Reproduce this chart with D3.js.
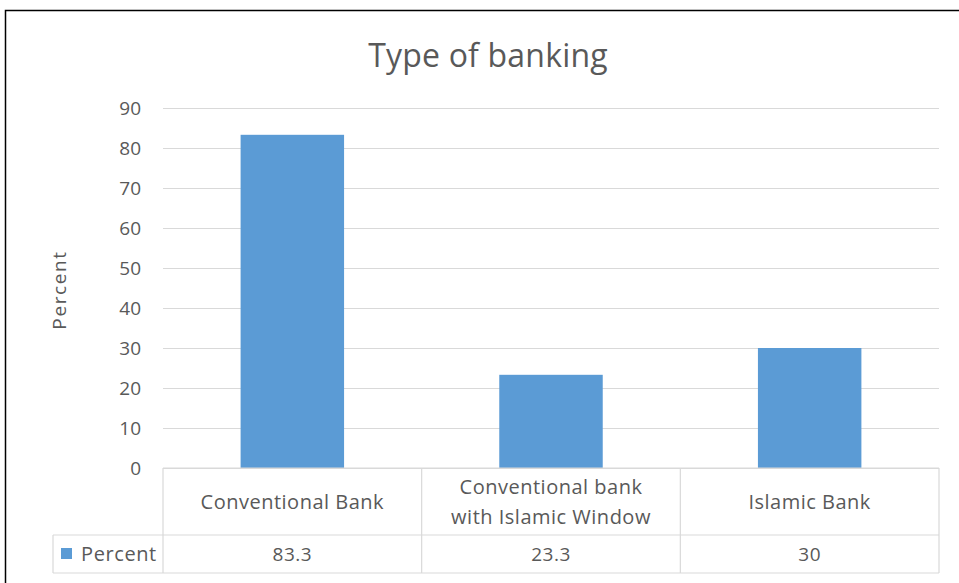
<!DOCTYPE html>
<html><head><meta charset="utf-8">
<script src="https://cdn.jsdelivr.net/npm/d3@7"></script>
<style>body{margin:0;background:#fff}svg{display:block}text{font-family:"Open Sans",sans-serif;fill:#595959}</style>
</head><body>
<svg id="c" width="959" height="583"></svg>
<script>
const categories = [["Conventional Bank"], ["Conventional bank", "with Islamic Window"], ["Islamic Bank"]];
const values = [83.3, 23.3, 30];
const valueLabels = ["83.3", "23.3", "30"];
const yTicks = [0, 10, 20, 30, 40, 50, 60, 70, 80, 90];
const seriesName = "Percent";
const title = "Type of banking";

const svg = d3.select("#c");
const L = 163, R = 939, T = 108, B = 468;
const row1 = 535, row2 = 573, legendLeft = 53;
const col = "#5B9BD5", grid = "#D9D9D9";

svg.append("rect").attr("x", 5.5).attr("y", 10.5).attr("width", 960).attr("height", 600)
  .attr("fill", "#fff").attr("stroke", "#000").attr("stroke-width", 1.5);

const x = d3.scaleBand().domain(d3.range(categories.length)).range([L, R]).paddingInner(0.6).paddingOuter(0.3);
const xc = d3.scaleBand().domain(d3.range(categories.length)).range([L, R]);
const y = d3.scaleLinear().domain([0, 90]).range([B, T]);

svg.append("text").attr("x", 488).attr("y", 67).attr("text-anchor", "middle")
  .style("font-size", "32px").style("letter-spacing", "0.2px").text(title);

svg.append("g").selectAll("line").data(yTicks).join("line")
  .attr("x1", L).attr("x2", R).attr("y1", d => y(d) + 0.5).attr("y2", d => y(d) + 0.5)
  .attr("stroke", grid).attr("stroke-width", 1);

svg.append("g").selectAll("text").data(yTicks).join("text")
  .attr("x", 141).attr("y", d => y(d) + 7).attr("text-anchor", "end")
  .style("font-size", "19px").text(d => d);

svg.append("text").attr("transform", "translate(66,290) rotate(-90)").attr("text-anchor", "middle")
  .style("font-size", "19px").style("letter-spacing", "1.6px").text(seriesName);

svg.append("g").selectAll("rect").data(values).join("rect")
  .attr("x", (d, i) => x(i)).attr("width", x.bandwidth())
  .attr("y", d => y(d)).attr("height", d => y(0) - y(d)).attr("fill", col);

// data table
const tg = svg.append("g").attr("stroke", grid).attr("stroke-width", 1.2);
tg.append("line").attr("x1", L).attr("x2", R).attr("y1", B).attr("y2", B);
tg.append("line").attr("x1", legendLeft).attr("x2", R).attr("y1", row1).attr("y2", row1);
tg.append("line").attr("x1", legendLeft).attr("x2", R).attr("y1", row2).attr("y2", row2);
tg.append("line").attr("x1", legendLeft).attr("x2", legendLeft).attr("y1", row1).attr("y2", row2);
const vlines = d3.range(categories.length).map(i => xc(i)).concat([R]);
tg.selectAll("line.v").data(vlines).join("line").attr("class", "v")
  .attr("x1", d => d).attr("x2", d => d).attr("y1", B).attr("y2", row2);

const cg = svg.append("g");
categories.forEach((lines, i) => {
  const cx = xc(i) + xc.bandwidth() / 2;
  const mid = (B + row1) / 2;
  lines.forEach((ln, j) => {
    cg.append("text").attr("x", cx).attr("y", mid + 7 + (j - (lines.length - 1) / 2) * 30)
      .attr("text-anchor", "middle").style("font-size", "20px").style("letter-spacing", "0.5px").text(ln);
  });
  cg.append("text").attr("x", cx).attr("y", (row1 + row2) / 2 + 7)
    .attr("text-anchor", "middle").style("font-size", "19px").style("letter-spacing", "0.5px").text(valueLabels[i]);
});
svg.append("rect").attr("x", 61).attr("y", 548).attr("width", 11).attr("height", 11).attr("fill", col);
svg.append("text").attr("x", 81).attr("y", 561).style("font-size", "20px").style("letter-spacing", "0.6px").text(seriesName);
</script>
</body></html>
